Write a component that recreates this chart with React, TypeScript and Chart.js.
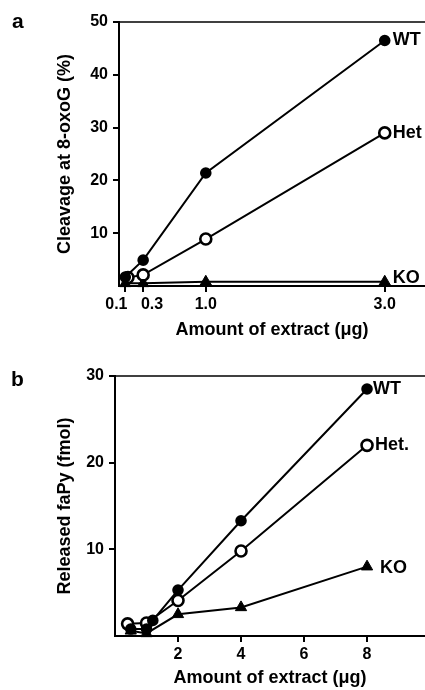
import React, { useEffect, useRef } from 'react';
import { Chart, registerables } from 'chart.js';
Chart.register(...registerables);

// Panel a data
const aWTX = [0.1, 0.3, 1.0, 3.0];
const aWTY = [1.7, 4.9, 21.4, 46.5];
const aHetX = [0.13, 0.3, 1.0, 3.0];
const aHetY = [1.6, 2.1, 8.9, 29];
const aKOX = [0.1, 0.3, 1.0, 3.0];
const aKOY = [0.5, 0.5, 0.8, 0.8];
const aXTicks = [0.1, 0.3, 1.0, 3.0];
const aXTickLabels = ['0.1    ', '    0.3', '1.0', '3.0'];
const aYTicks = [10, 20, 30, 40, 50];

// Panel b data
const bWTX = [0.5, 1.0, 1.2, 2, 4, 8];
const bWTY = [0.8, 0.8, 1.8, 5.3, 13.3, 28.5];
const bHetX = [0.4, 1.0, 2, 4, 8];
const bHetY = [1.4, 1.5, 4.1, 9.8, 22];
const bKOX = [0.5, 1.0, 2, 4, 8];
const bKOY = [0.6, 0.3, 2.5, 3.3, 8];
const bXTicks = [2, 4, 6, 8];
const bXTickLabels = ['2', '4', '6', '8'];
const bYTicks = [10, 20, 30];

const FONT = '"Liberation Sans", Arial, sans-serif';

type Series = { xs: number[]; ys: number[]; label: string; style: 'filled' | 'open' | 'tri'; dx: number; dy: number };

type PanelProps = {
  panel: string;
  panelPos: [number, number];
  series: Series[];
  xmin: number; xmax: number; ymax: number;
  xTicks: number[]; xTickLabels: string[]; yTicks: number[];
  xTitle: string; yTitle: string;
  left: number; top: number; bottomH: number;
  xTitlePad: number; xTickPad: number;
};

function Panel(p: PanelProps) {
  const ref = useRef<HTMLCanvasElement>(null);
  useEffect(() => {
    const datasets = p.series.map((s) => {
      const base: any = {
        label: s.label,
        data: s.xs.map((x, i) => ({ x, y: s.ys[i] })),
        showLine: true,
        borderColor: '#000',
        borderWidth: 2,
        clip: false,
        pointBorderColor: '#000',
        pointBorderWidth: 2,
      };
      if (s.style === 'filled') {
        base.pointStyle = 'circle'; base.pointRadius = 4.8; base.pointBackgroundColor = '#000';
      } else if (s.style === 'open') {
        base.pointStyle = 'circle'; base.pointRadius = 5.5; base.pointBackgroundColor = '#fff'; base.pointBorderWidth = 2.6;
      } else {
        base.pointStyle = 'triangle'; base.pointRadius = 6.5; base.pointBackgroundColor = '#000'; base.pointBorderWidth = 1;
      }
      return base;
    });
    const labelPlugin = {
      id: 'labels',
      afterDatasetsDraw(chart: any) {
        const ctx = chart.ctx;
        ctx.save();
        ctx.fillStyle = '#000';
        ctx.font = `bold 18px ${FONT}`;
        ctx.textAlign = 'left';
        ctx.textBaseline = 'middle';
        p.series.forEach((s, i) => {
          const meta = chart.getDatasetMeta(i);
          const el = meta.data[meta.data.length - 1];
          ctx.fillText(s.label, el.x + s.dx, el.y + s.dy);
        });
        // top border
        const ca = chart.chartArea;
        ctx.strokeStyle = '#000';
        ctx.lineWidth = 1.5;
        ctx.beginPath();
        ctx.moveTo(ca.left, ca.top);
        ctx.lineTo(ca.right, ca.top);
        ctx.stroke();
        // panel label
        ctx.font = `bold 21px ${FONT}`;
        ctx.fillText(p.panel, p.panelPos[0], p.panelPos[1]);
        ctx.restore();
      },
    };
    const chart = new Chart(ref.current!, {
      type: 'scatter',
      data: { datasets },
      plugins: [labelPlugin],
      options: {
        animation: false,
        responsive: false,
        layout: { autoPadding: false, padding: { top: p.top, left: 0, right: 0, bottom: 0 } },
        plugins: { legend: { display: false }, tooltip: { enabled: false } },
        scales: {
          x: {
            type: 'linear',
            min: p.xmin, max: p.xmax,
            afterBuildTicks: (s: any) => { s.ticks = p.xTicks.map((v) => ({ value: v })); },
            afterFit: (s: any) => { s.height = p.bottomH; },
            ticks: {
              color: '#000', font: { family: FONT, weight: 'bold', size: 16 },
              padding: p.xTickPad, maxRotation: 0, autoSkip: false,
              callback: (_v: any, i: number) => p.xTickLabels[i],
            },
            grid: { display: true, drawOnChartArea: false, drawTicks: true, tickLength: 6, color: '#000', lineWidth: 2 },
            border: { display: true, color: '#000', width: 2 },
            title: { display: true, text: p.xTitle, color: '#000', font: { family: FONT, weight: 'bold', size: 18 }, padding: { top: 0, bottom: p.xTitlePad } },
          },
          y: {
            type: 'linear',
            min: 0, max: p.ymax,
            afterBuildTicks: (s: any) => { s.ticks = p.yTicks.map((v) => ({ value: v })); },
            afterFit: (s: any) => { s.width = p.left; },
            ticks: { color: '#000', font: { family: FONT, weight: 'bold', size: 16 }, padding: 5 },
            grid: { display: true, drawOnChartArea: false, drawTicks: true, tickLength: 6, color: '#000', lineWidth: 2 },
            border: { display: true, color: '#000', width: 2 },
            title: { display: true, text: p.yTitle, color: '#000', font: { family: FONT, weight: 'bold', size: 18 }, padding: { top: 54, bottom: 0 } },
          },
        },
      } as any,
    });
    return () => chart.destroy();
  }, []);
  return <canvas ref={ref} width={425} height={345} style={{ display: 'block', width: 425, height: 345 }} />;
}

export default function App() {
  const seriesA: Series[] = [
    { xs: aWTX, ys: aWTY, label: 'WT', style: 'filled', dx: 8, dy: 0 },
    { xs: aHetX, ys: aHetY, label: 'Het', style: 'open', dx: 8, dy: 0 },
    { xs: aKOX, ys: aKOY, label: 'KO', style: 'tri', dx: 8, dy: -4 },
  ];
  const seriesB: Series[] = [
    { xs: bWTX, ys: bWTY, label: 'WT', style: 'filled', dx: 6, dy: 0 },
    { xs: bHetX, ys: bHetY, label: 'Het.', style: 'open', dx: 8, dy: 0 },
    { xs: bKOX, ys: bKOY, label: 'KO', style: 'tri', dx: 13, dy: 1 },
  ];
  return (
    <div style={{ position: 'absolute', left: 0, top: 0, width: 425, height: 690, background: '#fff' }}>
      <Panel panel="a" panelPos={[12, 22]} series={seriesA} xmin={0.03} xmax={3.45} ymax={50}
        xTicks={aXTicks} xTickLabels={aXTickLabels} yTicks={aYTicks}
        xTitle="Amount of extract (μg)" yTitle="Cleavage at 8-oxoG (%)"
        left={119} top={22} bottomH={59} xTitlePad={4} xTickPad={3} />
      <Panel panel="b" panelPos={[11, 35]} series={seriesB} xmin={0} xmax={9.84} ymax={30}
        xTicks={bXTicks} xTickLabels={bXTickLabels} yTicks={bYTicks}
        xTitle="Amount of extract (μg)" yTitle="Released faPy (fmol)"
        left={115} top={31} bottomH={54} xTitlePad={1} xTickPad={3} />
    </div>
  );
}
